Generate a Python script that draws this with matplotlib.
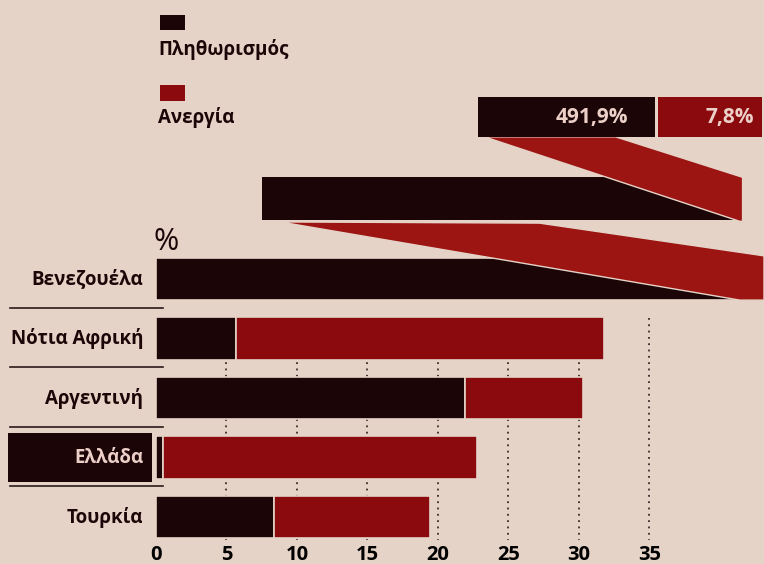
import numpy as np
import matplotlib.pyplot as plt
from matplotlib.patches import Rectangle, Polygon

plt.rcParams['font.family'] = ['Open Sans', 'DejaVu Sans']

# data
countries = ['Βενεζουέλα', 'Νότια Αφρική', 'Αργεντινή', 'Ελλάδα', 'Τουρκία']
inflation = [491.9, 5.7, 21.9, 0.5, 8.4]
unemployment = [7.8, 26.1, 8.4, 22.3, 11.0]
xticks = [0, 5, 10, 15, 20, 25, 30, 35]
legend_labels = ['Πληθωρισμός', 'Ανεργία']

bg = '#e6d3c7'
dark = '#1c0507'
red = '#8a0a0e'
red2 = '#9c1512'
lightpink = '#ecd0c8'

fig = plt.figure(figsize=(7.64, 5.64), dpi=100, facecolor=bg)
ax = fig.add_axes([0, 0.0337, 1, 0.9663])
ax.set_facecolor(bg)
ax.set_xlim(-11.06, 43.12)
ax.set_ylim(4.47, -4.69)
for s in ax.spines.values():
    s.set_visible(False)
ax.set_yticks([])
ax.set_xticks(xticks)
ax.set_xticklabels([str(t) for t in xticks], fontsize=14.5, fontweight='bold')
ax.tick_params(axis='x', length=0, pad=0)

y = np.arange(len(countries))
h = 0.71

# dotted grid behind bars
ax.vlines(xticks[1:], 0.66, 4.39, colors='#3a2a28', linestyles=(0, (1, 2.5)),
          linewidth=1.3, zorder=1)

ax.barh(y, inflation, height=h, color=dark, edgecolor=bg, linewidth=1.2, zorder=2)
ax.barh(y[1:], unemployment[1:], left=inflation[1:], height=h, color=red,
        edgecolor=bg, linewidth=1.2, zorder=2)

# folded ribbon for Venezuela (decorative, in data units)
ax.add_patch(Polygon([(8.8, -0.96), (27.2, -0.94), (43.12, -0.39), (43.12, 0.354),
                      (41.4, 0.354)], closed=True, facecolor=red2, edgecolor=bg,
                     linewidth=1, zorder=3))
ax.add_patch(Rectangle((7.5, -1.71), 33.4, 0.72, facecolor=dark, edgecolor='none',
                       zorder=3))
ax.add_patch(Polygon([(23.3, -2.39), (32.6, -2.39), (41.6, -1.71), (41.6, -0.97),
                      (41.4, -0.97)], closed=True, facecolor=red2, edgecolor=bg,
                     linewidth=1, zorder=4))

# value box
ax.add_patch(Rectangle((22.84, -3.06), 12.56, 0.67, facecolor=dark, edgecolor='none', zorder=5))
ax.add_patch(Rectangle((35.6, -3.06), 7.4, 0.67, facecolor=red, edgecolor='none', zorder=5))
ax.text(33.5, -2.72, f'{inflation[0]:.1f}%'.replace('.', ','), ha='right', va='center',
        fontsize=15, fontweight='bold', color=lightpink, zorder=6)
ax.text(42.4, -2.72, f'{unemployment[0]:.1f}%'.replace('.', ','), ha='right', va='center',
        fontsize=15, fontweight='bold', color=lightpink, zorder=6)

# category labels
for i, name in enumerate(countries):
    col = dark
    if i == 3:
        ax.add_patch(Rectangle((-10.5, 2.59), 10.22, 0.82, facecolor=dark,
                               edgecolor='none', clip_on=False, zorder=2))
        col = lightpink
    ax.text(-0.9, i, name, ha='right', va='center', fontsize=13.5,
            fontweight='bold', color=col, zorder=3)
for i in range(4):
    ax.plot([-10.35, 0.5], [i + 0.48, i + 0.48], color='#2a1a18', linewidth=1.2,
            zorder=2)

ax.text(-0.15, -0.62, '%', ha='left', va='center', fontsize=22, color=dark)

# legend
ax.add_patch(Rectangle((0.28, -4.44), 1.8, 0.26, facecolor=dark, edgecolor='none'))
ax.text(0.15, -3.85, legend_labels[0], ha='left', va='center', fontsize=13.5,
        fontweight='bold', color=dark)
ax.add_patch(Rectangle((0.28, -3.26), 1.8, 0.27, facecolor=red, edgecolor='none'))
ax.text(0.15, -2.71, legend_labels[1], ha='left', va='center', fontsize=13.5,
        fontweight='bold', color=dark)

fig.savefig('out.png', dpi=100, facecolor=bg)
